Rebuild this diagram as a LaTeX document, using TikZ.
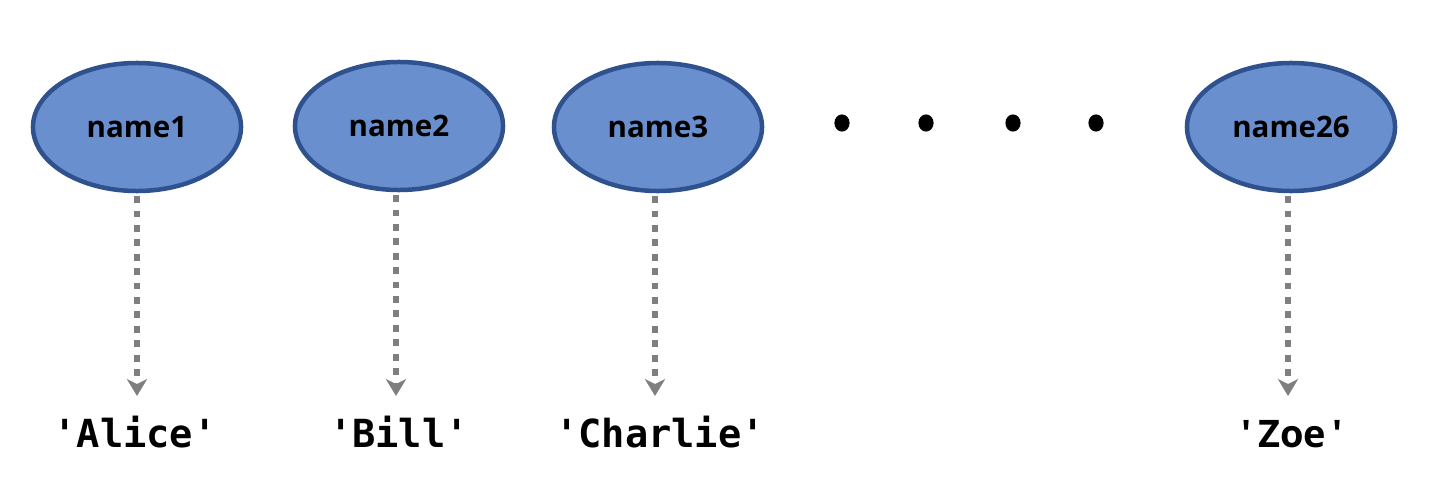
\documentclass[tikz,border=0pt]{standalone}
\usepackage{fontspec}
\setmainfont{Open Sans}
\newfontfamily\monofont{DejaVu Sans Mono}
\newfontfamily\zoefont{Open Sans}[Ligatures=TeXOff]
\usetikzlibrary{arrows.meta,shapes.geometric}
\definecolor{namefill}{RGB}{106,143,207}
\definecolor{nameborder}{RGB}{47,82,143}
\definecolor{refgray}{RGB}{127,127,127}
\tikzset{namevar/.style={draw=nameborder, fill=namefill, ellipse, line width=3.2pt, minimum width=5.2cm, minimum height=3.2cm, font=\fontsize{21}{24}\selectfont\bfseries}}
\tikzset{refers/.style={refgray, line width=4.8pt, dash pattern=on 0.17cm off 0.19cm, -{Stealth[length=0.42cm, width=0.5cm, inset=0.12cm]}}}
\tikzset{value/.style={anchor=base, inner sep=0pt, font=\monofont\fontsize{27.5}{30}\selectfont\bfseries}}

\begin{document}
\begin{tikzpicture}[x=0.025cm, y=-0.025cm]
	\useasboundingbox (0,0) rectangle (1432,485);
	% Default look for the dots
	\tikzstyle{gap}=[fill=black, ellipse, inner sep=0pt, minimum width=0.38cm, minimum height=0.43cm];

	% Names
	\node[namevar] (n1) at (137,127) {name1};
	\node[namevar] (n2) at (399,126) {name2};
	\node[namevar] (n3) at (658,127) {name3};
	\node[namevar] (n26) at (1291,127) {name26};

	% Dots
	\node[gap] (d1) at (842,123) {};
	\node[gap] (d2) at (926,123) {};
	\node[gap] (d3) at (1013,123) {};
	\node[gap] (d4) at (1096,123) {};

	% Values
	\coordinate (v1 top) at (137,396);	\node[value] (v1) at (135,447) {'Alice'};
	\coordinate (v2 top) at (396,396);	\node[value] (v2) at (399,447) {'Bill'};
	\coordinate (v3 top) at (655,396);	\node[value] (v3) at (660,447) {'Charlie'};
	\coordinate (v26 top) at (1288,396);	\node[value, font=\zoefont\fontsize{27}{30}\selectfont\bfseries] (v26) at (1292,447) {'\,Zoe\,'};

	% Arrows
	\draw[refers] (n1.south) ++(0,3) -- (v1 top);
	\draw[refers] (n2.south) ++(-3,3) -- (v2 top);
	\draw[refers] (n3.south) ++(-3,3) -- (v3 top);
	\draw[refers] (n26.south) ++(-3,3) -- (v26 top);

\end{tikzpicture}
\end{document}
